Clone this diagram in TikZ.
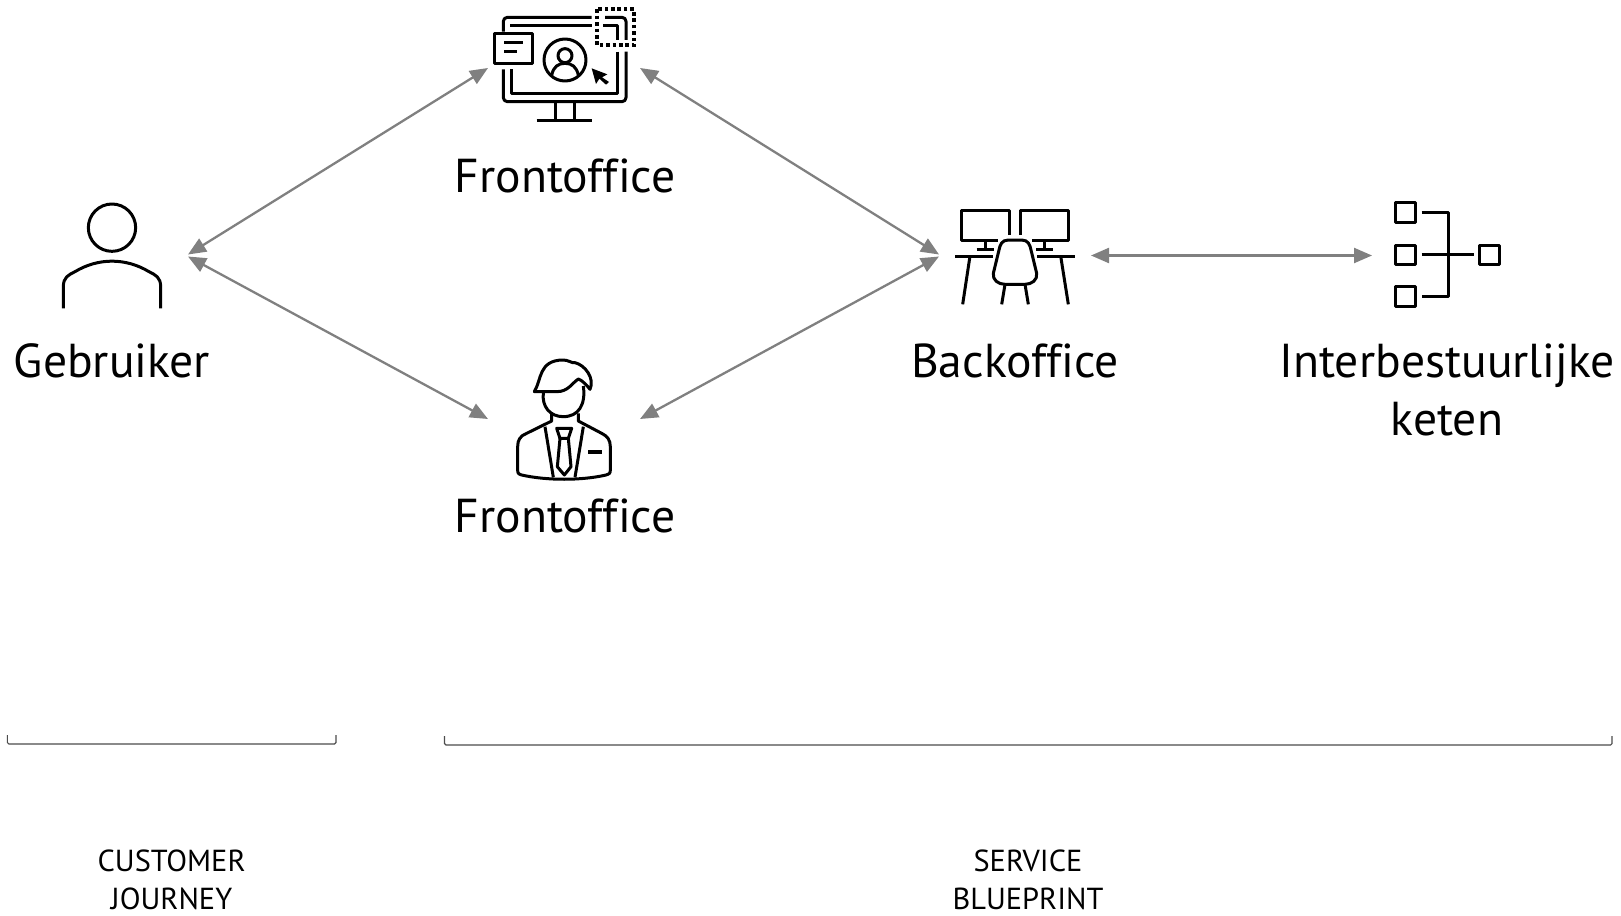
\documentclass[tikz,border=0pt]{standalone}
\usepackage{fontspec}
\setmainfont[Ligatures=NoCommon]{PT Sans}
\usetikzlibrary{arrows.meta}
\tikzset{
  x=1pt,y=-1pt,
  big/.style={font=\fontsize{47.6}{58}\selectfont,align=center,text=black,inner sep=0pt,anchor=base},
  small/.style={font=\fontsize{30.4}{38}\selectfont,align=center,text=black,inner sep=0pt,anchor=base},
  link/.style={draw=black!50,line width=2.3pt,{Triangle[length=18pt,width=15pt]}-{Triangle[length=18pt,width=15pt]}},
  brace/.style={draw=black!70,line width=1.1pt},
  ico/.style={draw=black,line width=3pt,line join=round,fill=none},
}
\begin{document}
\begin{tikzpicture}
\useasboundingbox (0,0) rectangle (1621,915);
% anchors
\coordinate (uT) at (188,254.5);
\coordinate (uB) at (188,256.5);
\coordinate (fL) at (488,68);
\coordinate (fR) at (640,68);
\coordinate (pL) at (488,419);
\coordinate (pR) at (640,419);
\coordinate (bT) at (939,254.5);
\coordinate (bB) at (939,256.5);
\coordinate (bE) at (1091,255.5);
\coordinate (nW) at (1372,255.5);
% connectors
\draw[link] (uT) -- (fL);
\draw[link] (uB) -- (pL);
\draw[link] (fR) -- (bT);
\draw[link] (pR) -- (bB);
\draw[link] (bE) -- (nW);
% labels
\node[big] (gebruiker) at (112,377.5) {Gebruiker};
\node[big] (front1) at (565,192) {Frontoffice};
\node[big] (front2) at (565,532) {Frontoffice};
\node[big] (back) at (1015,377.5) {Backoffice};
\node[big] (inter) at (1447,377.5) {Interbestuurlijke};
\node[big] (keten) at (1447,435) {keten};
\node[small] (cj1) at (171.6,871) {CUSTOMER};
\node[small] (cj2) at (171.6,909) {JOURNEY};
\node[small] (sb1) at (1028,871) {SERVICE};
\node[small] (sb2) at (1028,909) {BLUEPRINT};
% brackets
\draw[brace,rounded corners=1.5pt] (7.3,735) -- (7.3,744) -- (336,744) -- (336,735);
\draw[brace,rounded corners=1.5pt] (444.5,736) -- (444.5,745) -- (1612,745) -- (1612,736);
% user
\begin{scope}[shift={(50,190)},scale=1/3]
\draw[ico] (186,113) circle (71);
\draw[ico] (40,355) -- (40,290) .. controls (40,262) and (55,255) .. (75,245) .. controls (145,203) and (227,203) .. (297,245) .. controls (317,255) and (332,262) .. (332,290) -- (332,355);
\end{scope}
% monitor
\begin{scope}[shift={(470,0)},scale=1/3]
\draw[ico,rounded corners=4pt] (100,95) -- (100,52) -- (365,52);
\draw[ico,rounded corners=4pt] (405,52) -- (468,52) -- (468,120);
\draw[ico,rounded corners=4pt] (468,155) -- (468,305) -- (100,305) -- (100,208);
\draw[ico] (120,78) -- (365,78);
\draw[ico] (400,78) -- (443,78) -- (443,120);
\draw[ico] (443,155) -- (443,280) -- (125,280) -- (125,208);
\draw[ico] (72,100) rectangle (188,190);
\draw[ico,line width=3.5pt] (103,128) -- (158,128);
\draw[ico,line width=3.5pt] (103,155) -- (140,155);
\draw[ico,line width=4pt,line join=miter,dash pattern=on 3.6pt off 2.8pt] (382,28) rectangle (492,136);
\draw[ico] (285,180) circle (63);
\draw[ico] (285,167) circle (21);
\draw[ico] (245,226) .. controls (250,200) and (265,190) .. (285,190) .. controls (305,190) and (320,200) .. (325,226);
\fill[black] (365,205) -- (412,223) -- (396,232) -- (417,246) -- (408,254) -- (388,236) -- (378,252) -- cycle;
\draw[ico] (255,305) -- (255,362);
\draw[ico] (312,305) -- (312,362);
\draw[ico] (200,362) -- (367,362);
\end{scope}
% person
\begin{scope}[shift={(500,350)},scale=1/3]
\draw[ico] (103,125) .. controls (125,90) and (115,30) .. (190,30) .. controls (205,30) and (215,40) .. (225,38) .. controls (255,45) and (285,85) .. (270,118) .. controls (260,105) and (245,90) .. (235,87) .. controls (215,100) and (205,125) .. (170,125) -- cycle;
\draw[ico] (130,128) .. controls (125,170) and (150,200) .. (190,200) .. controls (235,200) and (258,165) .. (250,108);
\draw[ico] (155,190) -- (155,213) -- (80,250) .. controls (60,258) and (53,270) .. (53,290) -- (53,360) .. controls (53,370) and (55,372) .. (65,375) .. controls (140,392) and (245,392) .. (318,375) .. controls (328,372) and (331,370) .. (331,360) -- (331,290) .. controls (331,270) and (322,258) .. (305,250) -- (235,213) -- (235,190);
\draw[ico] (135,230) -- (160,382);
\draw[ico] (250,230) -- (225,382);
\draw[ico] (170,235) -- (215,235) -- (205,265) -- (180,265) -- cycle;
\draw[ico] (180,265) -- (172,350) -- (193,375) -- (213,350) -- (205,265);
\draw[ico,line width=4pt] (265,305) -- (305,305);
\end{scope}
% backoffice
\begin{scope}[shift={(930,195)},scale=1/3]
\draw[ico] (238,120) -- (238,45) -- (95,45) -- (95,135) -- (205,135);
\draw[ico] (167,135) -- (167,163);
\draw[ico] (140,163) -- (193,163);
\draw[ico] (272,120) -- (272,45) -- (415,45) -- (415,135) -- (305,135);
\draw[ico] (343,135) -- (343,163);
\draw[ico] (318,163) -- (370,163);
\draw[ico] (75,183) -- (188,183);
\draw[ico] (322,183) -- (435,183);
\draw[ico] (120,183) -- (98,328);
\draw[ico] (392,183) -- (415,328);
\draw[ico] (235,135) -- (275,135) .. controls (295,135) and (300,150) .. (303,165) -- (320,235) .. controls (323,255) and (305,268) .. (285,268) -- (225,268) .. controls (205,268) and (187,255) .. (190,235) -- (207,165) .. controls (210,150) and (215,135) .. (235,135) -- cycle;
\draw[ico] (225,268) -- (215,328);
\draw[ico] (285,268) -- (295,328);
\end{scope}
% network
\begin{scope}[shift={(1360,190)},scale=1/3]
\draw[ico] (107,38) rectangle (167,97);
\draw[ico] (107,165) rectangle (167,223);
\draw[ico] (107,290) rectangle (167,348);
\draw[ico] (358,165) rectangle (418,223);
\draw[ico] (185,67) -- (265,67) -- (265,318) -- (185,318);
\draw[ico] (185,192) -- (342,192);
\end{scope}
\end{tikzpicture}
\end{document}
